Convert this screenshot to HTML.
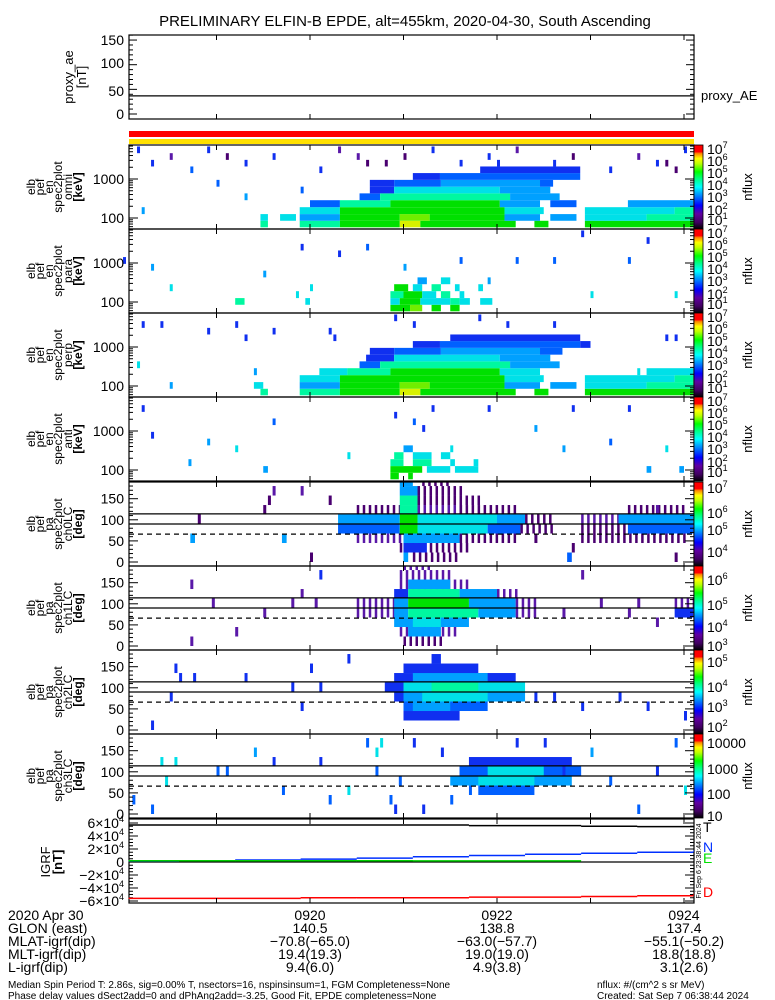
<!DOCTYPE html>
<html><head><meta charset="utf-8"><style>
html,body{margin:0;padding:0;background:#fff;}
svg{display:block;font-family:"Liberation Sans",sans-serif;}
</style></head><body>
<svg id="s" width="775" height="1000" viewBox="0 0 775 1000" xmlns="http://www.w3.org/2000/svg">
<defs>
<linearGradient id="cb" x1="0" y1="1" x2="0" y2="0">
<stop offset="0" stop-color="#000000"/><stop offset="0.08" stop-color="#400060"/><stop offset="0.18" stop-color="#6000a0"/>
<stop offset="0.28" stop-color="#0000ff"/><stop offset="0.42" stop-color="#00a0ff"/><stop offset="0.5" stop-color="#00ffff"/>
<stop offset="0.6" stop-color="#00ff80"/><stop offset="0.68" stop-color="#00ff00"/><stop offset="0.78" stop-color="#c0ff00"/>
<stop offset="0.84" stop-color="#ffff00"/><stop offset="0.9" stop-color="#ff8000"/><stop offset="0.92" stop-color="#ff0000"/><stop offset="1" stop-color="#ff0000"/>
</linearGradient>
</defs>
<text x="405" y="26" font-size="15" text-anchor="middle">PRELIMINARY ELFIN-B EPDE, alt=455km, 2020-04-30, South Ascending</text>
<g id="g"></g>
</svg>
<script>
// ---- data (time in minutes after 09:18 UT) ----
const timeTicks = [1, 2, 3, 4, 5, 6];
const timeLabels = ["0920", "0922", "0924"];
const timeLabelMins = [2, 4, 6];
const energies = [70, 103, 154, 233, 351, 522, 775, 1164, 1729, 2540, 3770, 5600];
const paBins = [11.25, 33.75, 56.25, 78.75, 101.25, 123.75, 146.25, 168.75, 191.25];
const proxyAE = 40;
const igrfTimes = [0.06, 0.6, 1.2, 1.9, 2.5, 3.1, 3.7, 4.3, 4.9, 5.5, 6.1];
const igrfT = [57000, 57000, 57000, 57000, 57000, 57000, 56000, 56000, 55000, 54500, 54500];
const igrfN = [1500, 2000, 3000, 4500, 6000, 8000, 10000, 12000, 13500, 15000, 17000];
const igrfE = [2000, 2000, 2000, 2000, 2000, 1800, 1800, 1800, null, null, null];
const igrfD = [-56000, -56000, -56000, -55000, -55000, -55000, -54000, -54000, -53000, -52000, -50000];
const ephemRows = ["GLON (east)", "MLAT-igrf(dip)", "MLT-igrf(dip)", "L-igrf(dip)"];
const ephemVals = [["140.5","138.8","137.4"],["-70.8(-65.0)","-63.0(-57.7)","-55.1(-50.2)"],["19.4(19.3)","19.0(19.0)","18.8(18.8)"],["9.4(6.0)","4.9(3.8)","3.1(2.6)"]];

const omniSegs = [
 [[1.47,1.55,7],[1.89,2.32,7],[2.32,2.96,8],[2.96,3.18,10],[3.18,4.2,8],[4.4,4.55,8],[4.94,6.1,8]],
 [[1.47,1.55,6],[1.68,1.85,6],[1.89,2.32,5],[2.32,2.96,8],[2.96,3.28,9],[3.28,4.08,8],[4.08,4.46,5],[4.57,4.85,5],[4.94,5.6,6],[5.6,6.1,7]],
 [[1.89,2.32,6],[2.32,4.08,8],[4.08,4.5,6],[4.94,5.9,6],[5.9,6.1,7]],
 [[2.0,2.32,4],[2.32,2.86,7],[2.86,4.03,8],[4.03,4.46,5],[4.57,4.85,4],[5.4,6.1,5]],
 [[2.53,2.75,4],[2.75,4.14,7],[4.14,4.67,5]],
 [[2.64,2.9,3],[2.9,4.03,6],[4.03,4.57,5]],
 [[2.64,2.9,3],[2.9,3.4,4],[3.4,4.46,5],[4.46,4.6,4]],
 [[3.1,3.39,3],[3.39,4.89,4]],
 [[3.82,4.89,3]],
 [],[],[]
];
const omniSpecks = [[0.3,9,3],[0.5,10,2],[0.72,8,4],[0.9,11,3],[1.3,9,3],[1.6,10,3],[2.1,8,3],[2.3,11,2],[2.5,10,2],[2.8,9,1],[3.0,10,1],[3.3,11,3],[3.6,9,3],[3.9,10,3],[4.2,11,2],[4.6,9,3],[4.8,10,1],[5.2,8,3],[5.5,10,2],[5.8,9,1],[6.0,11,3],[1.0,6,4],[1.9,5,4],[1.3,4,5],[0.2,2,5],[5.9,8,1],[5.7,9,3],[0.15,11,3],[1.1,10,1],[2.6,9,1],[4.0,9,3]];
const perpSegs = [
 [[1.47,1.55,7],[1.89,2.32,7],[2.32,2.96,8],[2.96,3.18,10],[3.18,4.2,8],[4.4,4.55,8],[4.94,6.1,8]],
 [[1.4,1.5,6],[1.89,2.32,5],[2.32,2.96,8],[2.96,3.28,9],[3.28,4.08,8],[4.08,4.46,5],[4.57,4.85,5],[4.94,5.6,6],[5.6,6.1,7]],
 [[1.89,2.32,6],[2.32,4.08,8],[4.08,4.5,6],[4.94,5.9,6],[5.9,6.1,7]],
 [[2.1,2.4,6],[2.4,2.86,7],[2.86,4.03,8],[4.03,4.46,6],[5.6,6.1,6]],
 [[2.53,2.75,4],[2.75,4.14,7],[4.14,4.67,5]],
 [[2.6,2.9,3],[2.9,4.03,6],[4.03,4.57,5]],
 [[2.64,2.9,3],[2.9,3.4,4],[3.4,4.46,5],[4.46,4.7,4]],
 [[3.1,3.39,3],[3.39,4.89,4],[4.89,5.0,3]],
 [[3.5,4.89,3]],
 [],[],[]
];
const perpSpecks = [[0.2,10,3],[0.4,10,3],[1.2,10,3],[1.3,8,3],[2.2,9,3],[2.25,8,3],[2.9,11,3],[3.1,10,3],[3.8,11,3],[4.1,10,3],[4.6,10,3],[5.8,8,3],[5.9,8,3],[0.9,9,3],[1.6,9,3],[0.5,1,5],[1.4,3,5],[0.15,4,6],[5.5,3,6]];
const paraSegs = [
 [[2.86,3.07,8],[3.07,3.2,9],[3.3,3.4,8],[3.5,3.6,8]],
 [[2.86,2.96,6],[2.96,3.18,8],[3.18,3.5,6],[3.5,3.6,7],[3.6,3.71,6],[3.82,3.95,6],[1.2,1.3,7],[1.95,2.0,6]],
 [[2.86,3.0,7],[3.0,3.2,8],[3.2,3.35,6],[3.4,3.5,7],[3.6,3.65,6]],
 [[2.9,3.05,8],[3.1,3.2,6],[3.3,3.4,7],[3.55,3.6,6],[3.8,3.85,6]],
 [[3.15,3.25,5],[3.4,3.5,6]],[],[],[],[],[],[],[]
];
const paraSpecks = [[0.5,3,6],[1.85,2,6],[2.0,3,6],[5.0,2,6],[5.9,2,6],[0.3,6,5],[1.5,5,5],[3.0,6,5],[3.9,4,5],[3.6,7,4],[4.2,7,4],[4.6,7,4],[5.4,7,4],[2.3,8,3],[2.6,9,4],[1.9,9,3],[5.6,10,3],[4.9,11,3],[0.0,7,3]];
const antiSegs = [
 [[2.86,2.95,8],[3.05,3.1,8]],
 [[2.86,3.2,8],[3.25,3.5,6],[3.55,3.8,6],[1.5,1.55,5],[5.6,5.65,5],[5.95,6.0,5]],
 [[2.86,3.0,7],[3.1,3.3,7],[3.5,3.55,6],[3.75,3.8,6]],
 [[2.9,3.0,7],[3.1,3.3,6],[3.4,3.5,6]],
 [[3.0,3.1,5]],[],[],[],[],[],[],[]
];
const antiSpecks = [[0.7,2,5],[1.2,4,6],[2.4,3,6],[3.5,4,6],[4.7,4,5],[5.8,4,6],[0.3,6,3],[0.9,5,5],[1.6,8,4],[3.1,8,4],[3.2,7,3],[4.4,7,5],[5.2,5,4],[2.9,9,3],[3.3,10,3],[3.9,10,3],[4.8,10,3],[5.4,10,3],[0.2,10,3]];

const ch0Segs = [
 [[3.0,3.05,5],[3.1,3.6,1],[4.75,4.8,4]],
 [[2.96,3.7,1],[3.0,3.25,3]],
 [[2.5,3.0,2],[3.0,3.6,5],[3.6,4.2,1],[4.9,6.0,1],[0.72,0.77,5],[1.7,1.75,5]],
 [[2.3,2.96,4],[2.96,3.15,8],[3.15,3.9,6],[3.9,4.25,4],[4.25,4.6,1],[4.9,5.4,1],[5.4,6.1,4]],
 [[2.3,2.96,5],[2.96,3.15,8],[3.15,4.0,6],[4.0,4.3,5],[4.3,4.6,1],[4.9,5.3,2],[5.3,6.1,5]],
 [[2.5,2.96,1],[2.96,3.15,7],[3.15,3.6,2],[3.6,4.2,1],[5.4,6.0,1]],
 [[2.96,3.15,7],[3.15,3.8,1]],
 [[2.96,3.15,5],[3.15,3.6,1]],
 [[2.96,3.1,5],[3.2,3.5,1]]
];
const ch0Specks = [[0.8,4,1],[1.5,5,1],[1.55,6,1],[1.9,7,2],[2.0,0,1],[2.2,6,1],[4.8,1,1],[5.9,0,1],[5.7,5,2],[4.4,2,1],[1.6,7,2]];
const ch1Segs = [
 [[3.0,3.4,1]],
 [[2.96,3.6,2],[3.05,3.4,5]],
 [[2.9,3.7,5],[3.1,3.4,6]],
 [[2.5,2.9,2],[2.9,3.05,5],[3.05,3.8,7],[3.8,4.2,5],[4.2,4.4,2],[5.9,6.1,3]],
 [[2.5,2.9,2],[2.9,3.05,5],[3.05,3.7,8],[3.7,4.2,5],[4.2,4.4,2],[5.9,6.1,2]],
 [[2.9,3.05,3],[3.05,3.6,7],[3.6,4.0,5],[4.0,4.2,2]],
 [[2.96,3.7,2],[3.05,3.5,5]],
 [[2.96,3.5,2]],
 [[3.0,3.3,2]]
];
const ch1Specks = [[0.72,6,2],[0.72,0,2],[0.95,4,2],[1.5,3,2],[1.8,4,2],[1.9,5,2],[2.05,4,2],[4.7,3,2],[4.9,7,2],[5.1,4,2],[5.4,3,2],[5.5,4,2],[5.7,2,2],[2.1,7,3],[1.2,1,2]];
const ch2Segs = [
 [],
 [[3.0,3.6,3]],
 [[3.0,3.9,4],[3.1,3.5,5]],
 [[2.9,3.0,3],[3.0,4.3,5],[3.2,3.9,6]],
 [[2.8,3.0,3],[3.0,4.3,6],[3.3,3.8,7]],
 [[2.9,4.2,3],[3.1,3.9,5]],
 [[3.0,3.8,3]],
 [[3.3,3.4,3]],
 []
];
const ch2Specks = [[0.55,6,3],[0.6,5,3],[0.75,5,3],[0.5,3,3],[1.3,5,3],[1.9,2,3],[2.0,6,3],[2.4,7,3],[2.1,4,3],[4.4,3,3],[4.6,3,3],[4.9,2,3],[5.3,3,3],[5.6,2,3],[6.0,1,3],[0.3,0,3],[1.8,4,3]];
const ch3Segs = [
 [],[],
 [[3.8,4.4,4]],
 [[3.5,4.8,5],[3.8,4.4,6]],
 [[3.6,4.9,4],[3.9,4.5,6]],
 [[3.7,4.8,3]],
 [],[],[]
];
const ch3Specks = [[0.1,1,4],[0.3,0,4],[0.4,5,6],[0.45,3,6],[0.55,5,6],[1.0,4,4],[1.1,4,4],[1.4,6,5],[1.6,5,3],[1.7,2,4],[2.1,5,3],[2.2,1,4],[2.6,7,4],[2.7,4,4],[2.75,7,6],[2.85,1,4],[2.9,0,3],[2.95,3,4],[3.1,7,3],[2.7,6,6],[3.4,6,3],[3.6,4,4],[3.7,2,4],[4.2,7,3],[4.5,7,3],[4.7,4,3],[5.0,6,5],[5.2,3,4],[5.5,0,4],[5.7,4,3],[5.9,7,4],[6.0,2,6],[3.5,1,4],[3.2,0,3],[2.4,2,6]];

// ---- layout ----
const X0 = 129, X1 = 694;
function xs(t){ return 310 + (t - 2) * 93.5; }
function eY(top, E){ return top + 73 - (Math.log10(E) - 2) * 39; }
function pY(top, pa){ return top + 80 - 0.422 * pa; }
const levelColors = ["#200028","#4a0070","#5a18a8","#1030f0","#0060ff","#00a0ff","#00e0e8","#00f8a0","#00e000","#70ee00","#d8f000"];
const NS = "http://www.w3.org/2000/svg";
const G = document.getElementById('g');
function el(tag, attrs, parent){
  const e = document.createElementNS(NS, tag);
  for (const k in attrs) e.setAttribute(k, attrs[k]);
  (parent || G).appendChild(e);
  return e;
}
function txt(x, y, s, size, anchor, parent, fill){
  const t = el('text', {x:x, y:y, 'font-size':size, 'text-anchor':anchor||'start', fill:fill||'#000'}, parent);
  t.textContent = s;
  return t;
}

// proxy AE panel
const pg = el('g', {});


el('rect', {x:X0, y:35, width:X1-X0, height:84, fill:'none', stroke:'#000', 'stroke-width':1.2}, pg);
const aeY = v => 114 - v * 0.493;
[[150,40],[100,63],[50,91],[0,114]].forEach(a => { txt(124, a[1]+5, String(a[0]), 14, 'end', pg); });
for (let v = 0; v <= 160; v += 10) { const y = aeY(v); const L = v % 50 === 0 ? 8 : 4; el('line',{x1:X0,y1:y,x2:X0+L,y2:y,stroke:'#000'},pg); el('line',{x1:X1,y1:y,x2:X1-L,y2:y,stroke:'#000'},pg); }
const aeLine = el('line', {x1:X0, y1:aeY(proxyAE)+1.6, x2:X1, y2:aeY(proxyAE)+1.6, stroke:'#000', 'stroke-width':1.3}, pg);


txt(701, 100, 'proxy_AE', 13, 'start', pg);
const ael = txt(0, 0, 'proxy_ae', 13, 'middle', pg); ael.setAttribute('transform','translate(73,77) rotate(-90)');
const aeu = txt(0, 0, '[nT]', 13, 'middle', pg); aeu.setAttribute('transform','translate(86,77) rotate(-90)');
const redBar = el('rect', {x:X0, y:131, width:X1-X0, height:6, fill:'#ff0000'});


const yelBar = el('rect', {x:X0, y:139, width:X1-X0, height:5, fill:'#ffe000'});



function timeTicksOn(top, bot, parent){
  timeTicks.forEach(t => { const x = xs(t); el('line',{x1:x,y1:top,x2:x,y2:top+5,stroke:'#000'},parent); el('line',{x1:x,y1:bot,x2:x,y2:bot-5,stroke:'#000'},parent); });
}
timeTicksOn(35, 119, pg);

function leftLabel(parent, lines, cy){
  const xsl = [35, 44, 53, 62, 72, 82];
  lines.forEach((s, i) => { const t = txt(0, 0, s, 12, 'middle', parent); t.setAttribute('transform', 'translate(' + xsl[i] + ',' + cy + ') rotate(-90)'); if (i === 5) t.setAttribute('font-weight','bold'); });
}
function colorbar(parent, top, labels){
  el('rect', {x:694, y:top, width:9, height:84, fill:'url(#cb)', stroke:'#000', 'stroke-width':0.8}, parent);
  labels.forEach(l => {
    const t = el('text', {x:707, y:top + l[1] + 5, 'font-size':14}, parent);
    t.textContent = l[0];
    if (l[2]) { const s = el('tspan', {'font-size':9, dy:-6}, t); s.textContent = l[2]; }
  });
  const n = txt(0, 0, 'nflux', 13, 'middle', parent); n.setAttribute('transform', 'translate(752,' + (top + 42) + ') rotate(-90)');
}
function drawSegs(parent, segs, yFn){
  segs.forEach((row, i) => {
    const yc = yFn(i);
    row.forEach(s => {
      const xa = xs(s[0]), xb = xs(s[1]);
      if (s[2] <= 2 && xb - xa > 8) {
        // low-flux regions are sparse: draw as separated thin bars
        for (let x = xa; x < xb; x += 6) {
          const r = el('rect', {x:x, y:yc[0], width:2.5, height:yc[1]-yc[0], fill:levelColors[s[2]]}, parent);
          
          
        }
        return;
      }
      const r = el('rect', {x:xa, y:yc[0], width:Math.max(2, xb - xa), height:yc[1]-yc[0], fill:levelColors[s[2]]}, parent);
      
      
    });
  });
}
function drawSpecks(parent, sp, yFn){
  sp.forEach(s => {
    const yc = yFn(s[1]);
    const r = el('rect', {x:xs(s[0]), y:yc[0], width:3, height:yc[1]-yc[0], fill:levelColors[s[2]]}, parent);
    
    
  });
}

// energy spectrogram panels
const ePanels = [
 {top:145, name:'omni', segs:omniSegs, specks:omniSpecks},
 {top:229, name:'para', segs:paraSegs, specks:paraSpecks},
 {top:313, name:'perp', segs:perpSegs, specks:perpSpecks},
 {top:397, name:'anti', segs:antiSegs, specks:antiSpecks}
];
const eCbLabels = [['10',4,'7'],['10',16,'6'],['10',28,'5'],['10',40,'4'],['10',52,'3'],['10',65,'2'],['10',75,'1']];
ePanels.forEach(p => {
  const g = el('g', {});
  
  
  const T = p.top, B = T + 84;
  const yFn = i => {
    const lo = i === 0 ? energies[0] / Math.sqrt(energies[1]/energies[0]) : Math.sqrt(energies[i]*energies[i-1]);
    const hi = i === energies.length-1 ? energies[i]*Math.sqrt(energies[i]/energies[i-1]) : Math.sqrt(energies[i]*energies[i+1]);
    return [Math.max(T, eY(T, hi)), Math.min(B, eY(T, lo))];
  };
  drawSegs(g, p.segs, yFn);
  drawSpecks(g, p.specks, yFn);
  el('rect', {x:X0, y:T, width:X1-X0, height:84, fill:'none', stroke:'#000', 'stroke-width':1.2}, g);
  for (let k = 1; k <= 3; k++) for (let m = 1; m <= 9; m++) {
    const y = eY(T, m * Math.pow(10, k)); if (y < T || y > B) continue;
    const L = m === 1 ? 9 : 4;
    el('line',{x1:X0,y1:y,x2:X0+L,y2:y,stroke:'#000'},g); el('line',{x1:X1,y1:y,x2:X1-L,y2:y,stroke:'#000'},g);
  }
  txt(124, eY(T,1000)+5, '1000', 14, 'end', g);
  txt(124, eY(T,100)+5, '100', 14, 'end', g);
  timeTicksOn(T, B, g);
  leftLabel(g, ['elb','pef','en','spec2plot', p.name, '[keV]'], T + 42);
  colorbar(g, T, eCbLabels);
});

// pitch-angle panels
const pPanels = [
 {top:482, name:'ch0LC', segs:ch0Segs, specks:ch0Specks, cb:[['10',6,'7'],['10',31,'6'],['10',48,'5'],['10',70,'4']]},
 {top:566, name:'ch1LC', segs:ch1Segs, specks:ch1Specks, cb:[['10',14,'6'],['10',39,'5'],['10',61,'4'],['10',80,'3']]},
 {top:650, name:'ch2LC', segs:ch2Segs, specks:ch2Specks, cb:[['10',12,'5'],['10',37,'4'],['10',57,'3'],['10',77,'2']]},
 {top:734, name:'ch3LC', segs:ch3Segs, specks:ch3Specks, cb:[['10000',9,''],['1000',35,''],['100',60,''],['10',82,'']]}
];
pPanels.forEach(p => {
  const g = el('g', {});
  
  
  const T = p.top, B = T + 84;
  const yFn = i => [Math.max(T, pY(T, paBins[i] + 11.25)), Math.min(B, pY(T, paBins[i] - 11.25))];
  drawSegs(g, p.segs, yFn);
  drawSpecks(g, p.specks, yFn);
  el('rect', {x:X0, y:T, width:X1-X0, height:84, fill:'none', stroke:'#000', 'stroke-width':1.2}, g);
  el('line', {x1:X0, y1:pY(T,114), x2:X1, y2:pY(T,114), stroke:'#000', 'stroke-width':1.2}, g);
  el('line', {x1:X0, y1:pY(T,90), x2:X1, y2:pY(T,90), stroke:'#000', 'stroke-width':1.2}, g);
  el('line', {x1:X0, y1:pY(T,66), x2:X1, y2:pY(T,66), stroke:'#000', 'stroke-width':1.2, 'stroke-dasharray':'5,4'}, g);
  for (let v = -10; v <= 190; v += 10) {
    const y = pY(T, v); if (y < T || y > B) continue;
    const L = v % 50 === 0 ? 9 : 4;
    el('line',{x1:X0,y1:y,x2:X0+L,y2:y,stroke:'#000'},g); el('line',{x1:X1,y1:y,x2:X1-L,y2:y,stroke:'#000'},g);
  }
  [150,100,50,0].forEach(v => txt(124, pY(T,v)+5, String(v), 14, 'end', g));
  timeTicksOn(T, B, g);
  leftLabel(g, ['elb','pef','pa','spec2plot', p.name, '[deg]'], T + 42);
  colorbar(g, T, p.cb);
});

// IGRF panel
const ig = el('g', {});


const IT = 819, IB = 903;
const iY = v => 862 - v * 0.00065;
el('rect', {x:X0, y:IT, width:X1-X0, height:IB-IT, fill:'none', stroke:'#000', 'stroke-width':1.2}, ig);
el('line', {x1:X0, y1:iY(0), x2:X1, y2:iY(0), stroke:'#000', 'stroke-width':1.2}, ig);
for (let v = -60000; v <= 60000; v += 5000) { const y = iY(v); const L = v % 20000 === 0 ? 9 : 4; el('line',{x1:X0,y1:y,x2:X0+L,y2:y,stroke:'#000'},ig); el('line',{x1:X1,y1:y,x2:X1-L,y2:y,stroke:'#000'},ig); }
[6,4,2,0,-2,-4,-6].forEach(k => {
  const t = el('text', {x:124, y:iY(k*10000)+5, 'font-size':14, 'text-anchor':'end'}, ig);
  if (k === 0) { t.textContent = '0'; return; }
  t.textContent = (k < 0 ? '\u2212' : '') + Math.abs(k) + '\u00d710';
  const s = el('tspan', {'font-size':9, dy:-6}, t); s.textContent = '4';
});
function stepLine(vals, color, name){
  let d = '';
  vals.forEach((v, i) => {
    if (v === null) return;
    const x0 = xs(igrfTimes[i]), x1 = i < vals.length-1 ? xs(igrfTimes[i+1]) : X1;
    d += 'M' + x0 + ',' + iY(v) + 'L' + Math.min(X1, x1) + ',' + iY(v);
  });
  const p = el('path', {d:d, stroke:color, 'stroke-width':1.5, fill:'none'}, ig);
  
  
}
stepLine(igrfT, '#000', 'igrf-t-line');
stepLine(igrfN, '#0030ff', 'igrf-n-line');
stepLine(igrfE, '#00d000', 'igrf-e-line');
stepLine(igrfD, '#ff0000', 'igrf-d-line');
timeTicksOn(IT, IB, ig);
const il1 = txt(0,0,'IGRF',13,'middle',ig); il1.setAttribute('transform','translate(50,862) rotate(-90)');
const il2 = txt(0,0,'[nT]',13,'middle',ig); il2.setAttribute('transform','translate(62,862) rotate(-90)'); il2.setAttribute('font-weight','bold');
txt(703, 832, 'T', 14, 'start', ig, '#000');
txt(703, 852, 'N', 14, 'start', ig, '#0030ff');
txt(703, 863, 'E', 14, 'start', ig, '#00e000');
txt(703, 897, 'D', 14, 'start', ig, '#ff0000');
const dt = txt(0,0,'Fri Sep  6 23:38:44 2024',7,'middle',ig); dt.setAttribute('transform','translate(701,861) rotate(-90)');

// ephemeris text
const eg = el('g', {});


txt(8, 920, '2020 Apr 30', 14, 'start', eg);
timeLabels.forEach((s, i) => txt(xs(timeLabelMins[i]), 920, s, 14, 'middle', eg));
ephemRows.forEach((r, i) => {
  const y = 933 + i * 13;
  txt(8, y, r, 14, 'start', eg);
  ephemVals[i].forEach((v, j) => txt(xs(timeLabelMins[j]), y, v.replace(/-/g,'\u2212'), 14, 'middle', eg));
});
const fg = el('g', {});


txt(8, 988, 'Median Spin Period T: 2.86s, sig=0.00% T, nsectors=16, nspinsinsum=1, FGM Completeness=None', 10, 'start', fg);
txt(8, 999, 'Phase delay values dSect2add=0 and dPhAng2add=-3.25, Good Fit, EPDE completeness=None', 10, 'start', fg);
txt(597, 988, 'nflux: #/(cm^2 s sr MeV)', 10, 'start', fg);
txt(597, 999, 'Created: Sat Sep  7 06:38:44 2024', 10, 'start', fg);
</script>
</body></html>
